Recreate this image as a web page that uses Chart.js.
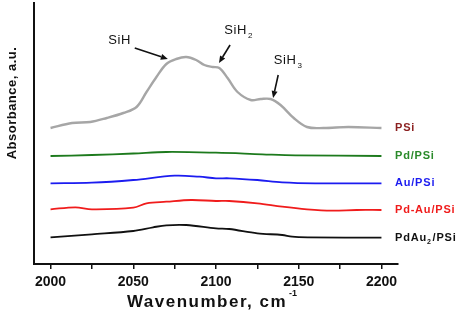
<!DOCTYPE html>
<html>
<head>
    <script src="https://cdn.jsdelivr.net/npm/chart.js@4.4.1/dist/chart.umd.min.js"></script>
    <style>
        body {
            margin: 0;
            padding: 0;
            background: #fff;
        }
        #wrap {
            width: 459px;
            height: 316px;
        }
    </style>
</head>
<body>
<div id="wrap">
    <canvas id="myChart" width="459" height="316"></canvas>
</div>

<script>
    // spectra (wavenumber in cm-1, absorbance in a.u.)
    const psiX = [2000, 2013, 2024, 2034, 2044, 2052, 2058, 2064, 2070, 2076, 2082, 2088, 2093, 2098, 2102, 2107, 2113, 2121, 2127, 2133, 2139, 2147, 2155, 2165, 2180, 2200];
    const psiY = [1.36, 1.41, 1.42, 1.46, 1.51, 1.57, 1.72, 1.87, 2.00, 2.05, 2.07, 2.04, 1.99, 1.97, 1.96, 1.86, 1.72, 1.64, 1.65, 1.65, 1.59, 1.46, 1.37, 1.36, 1.37, 1.36];

    const pdX = [2000, 2025, 2050, 2070, 2100, 2128, 2148, 2200];
    const pdY = [1.08, 1.09, 1.105, 1.12, 1.113, 1.097, 1.087, 1.08];

    const auX = [2000, 2025, 2050, 2075, 2090, 2100, 2108, 2125, 2140, 2160, 2200];
    const auY = [0.807, 0.813, 0.84, 0.883, 0.873, 0.857, 0.857, 0.84, 0.817, 0.807, 0.807];

    const pdAuX = [2000, 2015, 2025, 2050, 2058, 2070, 2085, 2100, 2108, 2125, 2140, 2155, 2170, 2185, 2200];
    const pdAuY = [0.547, 0.567, 0.547, 0.563, 0.607, 0.623, 0.64, 0.63, 0.63, 0.607, 0.573, 0.547, 0.533, 0.54, 0.54];

    const pdAu2X = [2000, 2025, 2050, 2062, 2070, 2082, 2100, 2108, 2125, 2140, 2146, 2156, 2200];
    const pdAu2Y = [0.267, 0.297, 0.33, 0.367, 0.387, 0.39, 0.357, 0.35, 0.307, 0.29, 0.273, 0.267, 0.263];

    const seriesNames = ['PSi', 'Pd/PSi', 'Au/PSi', 'Pd-Au/PSi', 'PdAu2/PSi'];
    const tickValues = [2000, 2025, 2050, 2075, 2100, 2125, 2150, 2175, 2200];

    // peak labels: text position and arrow (tail -> head), in data units
    const peakNames = ['SiH', 'SiH', 'SiH'];
    const peakSubs = ['', '2', '3'];
    const peakText = [[2041.8, 2.24], [2111.8, 2.34], [2141.8, 2.04]];
    const arrowFrom = [[2050.9, 2.16], [2108.5, 2.19], [2137.6, 1.89]];
    const arrowTo = [[2070.9, 2.05], [2101.8, 2.01], [2134.5, 1.66]];

    const lineColors = ['#a6a6a6', '#1d7a1d', '#1c1cf0', '#f01c1c', '#111111'];
    const labelColors = ['#8b1f1f', '#2a8a2a', '#1c1cf0', '#f01c1c', '#111111'];

    function pts(xs, ys) {
        return xs.map((x, i) => ({x: x, y: ys[i]}));
    }

    const allX = [psiX, pdX, auX, pdAuX, pdAu2X];
    const allY = [psiY, pdY, auY, pdAuY, pdAu2Y];

    const datasets = seriesNames.map((name, i) => ({
        label: name,
        data: pts(allX[i], allY[i]),
        borderColor: lineColors[i],
        borderWidth: i === 0 ? 2.4 : 1.8,
        pointRadius: 0,
        tension: 0.35,
        fill: false
    }));

    const textPlugin = {
        id: 'textPlugin',
        afterDraw(chart) {
            const ctx = chart.ctx;
            const xs = chart.scales.x;
            const ys = chart.scales.y;
            ctx.save();

            // series names at the right end of each curve
            ctx.font = 'bold 11px "Liberation Sans", Arial, sans-serif';
            ctx.letterSpacing = '0.8px';
            ctx.textBaseline = 'middle';
            ctx.textAlign = 'left';
            seriesNames.forEach((name, i) => {
                const yv = allY[i][allY[i].length - 1];
                const py = ys.getPixelForValue(yv);
                const px = chart.chartArea.right - 3;
                ctx.fillStyle = labelColors[i];
                if (name === 'PdAu2/PSi') {
                    ctx.fillText('PdAu', px, py);
                    let w = ctx.measureText('PdAu').width;
                    ctx.font = 'bold 7px "Liberation Sans", Arial, sans-serif';
                    ctx.fillText('2', px + w, py + 4);
                    let w2 = ctx.measureText('2').width;
                    ctx.font = 'bold 11px "Liberation Sans", Arial, sans-serif';
                    ctx.fillText('/PSi', px + w + w2 + 1, py);
                } else {
                    ctx.fillText(name, px, py);
                }
            });

            // peak annotations
            ctx.fillStyle = '#111';
            ctx.strokeStyle = '#111';
            ctx.letterSpacing = '0.6px';
            peakNames.forEach((name, i) => {
                const tx = xs.getPixelForValue(peakText[i][0]);
                const ty = ys.getPixelForValue(peakText[i][1]);
                ctx.font = '13px "Liberation Sans", Arial, sans-serif';
                ctx.textAlign = 'center';
                ctx.fillText(name, tx, ty);
                if (peakSubs[i]) {
                    const w = ctx.measureText(name).width;
                    ctx.font = '8px "Liberation Sans", Arial, sans-serif';
                    ctx.textAlign = 'left';
                    ctx.fillText(peakSubs[i], tx + w / 2 + 1, ty + 6);
                }
                const x1 = xs.getPixelForValue(arrowFrom[i][0]);
                const y1 = ys.getPixelForValue(arrowFrom[i][1]);
                const x2 = xs.getPixelForValue(arrowTo[i][0]);
                const y2 = ys.getPixelForValue(arrowTo[i][1]);
                const ang = Math.atan2(y2 - y1, x2 - x1);
                const hl = 7, hw = 3;
                ctx.lineWidth = 1.6;
                ctx.beginPath();
                ctx.moveTo(x1, y1);
                ctx.lineTo(x2 - hl * Math.cos(ang), y2 - hl * Math.sin(ang));
                ctx.stroke();
                ctx.beginPath();
                ctx.moveTo(x2, y2);
                ctx.lineTo(x2 - hl * Math.cos(ang) + hw * Math.sin(ang), y2 - hl * Math.sin(ang) - hw * Math.cos(ang));
                ctx.lineTo(x2 - hl * Math.cos(ang) - hw * Math.sin(ang), y2 - hl * Math.sin(ang) + hw * Math.cos(ang));
                ctx.closePath();
                ctx.fill();
            });

            // axis titles
            ctx.fillStyle = '#111';
            ctx.textAlign = 'center';
            ctx.textBaseline = 'middle';
            ctx.font = 'bold 17px "Liberation Sans", Arial, sans-serif';
            ctx.letterSpacing = '1.5px';
            const title = 'Wavenumber, cm';
            const tw = ctx.measureText(title).width;
            const cx = 207;
            ctx.fillText(title, cx, 302);
            ctx.font = 'bold 9px "Liberation Sans", Arial, sans-serif';
            ctx.letterSpacing = '0px';
            ctx.textAlign = 'left';
            ctx.fillText('-1', cx + tw / 2 + 2, 294);

            ctx.translate(12, 103);
            ctx.rotate(-Math.PI / 2);
            ctx.textAlign = 'center';
            ctx.font = 'bold 13px "Liberation Sans", Arial, sans-serif';
            ctx.letterSpacing = '0.5px';
            ctx.fillText('Absorbance, a.u.', 0, 0);
            ctx.restore();
        }
    };

    const ctx = document.getElementById('myChart').getContext('2d');
    const myChart = new Chart(ctx, {
        type: 'line',
        data: {datasets: datasets},
        options: {
            responsive: false,
            animation: false,
            layout: {
                padding: {left: 34, right: 61, top: 3, bottom: 26}
            },
            plugins: {
                legend: {display: false},
                tooltip: {enabled: false}
            },
            scales: {
                x: {
                    type: 'linear',
                    min: 1990,
                    max: 2210,
                    afterBuildTicks: axis => {
                        axis.ticks = tickValues.map(v => ({value: v}));
                    },
                    afterFit: axis => {
                        axis.height = 26;
                    },
                    border: {display: true, color: '#111', width: 2},
                    grid: {
                        display: true,
                        drawOnChartArea: false,
                        drawTicks: true,
                        tickLength: 5,
                        color: '#111',
                        lineWidth: 1.5
                    },
                    ticks: {
                        autoSkip: false,
                        maxRotation: 0,
                        padding: 5,
                        color: '#111',
                        font: {family: '"Liberation Sans", Arial, sans-serif', size: 14, weight: 'bold'},
                        callback: v => (v % 50 === 0 ? String(v) : '')
                    }
                },
                y: {
                    min: 0,
                    max: 2.61,
                    afterFit: axis => {
                        axis.width = 0;
                    },
                    border: {display: true, color: '#111', width: 2},
                    grid: {display: false, drawTicks: false},
                    ticks: {display: false}
                }
            }
        },
        plugins: [textPlugin]
    });
</script>
</body>
</html>
